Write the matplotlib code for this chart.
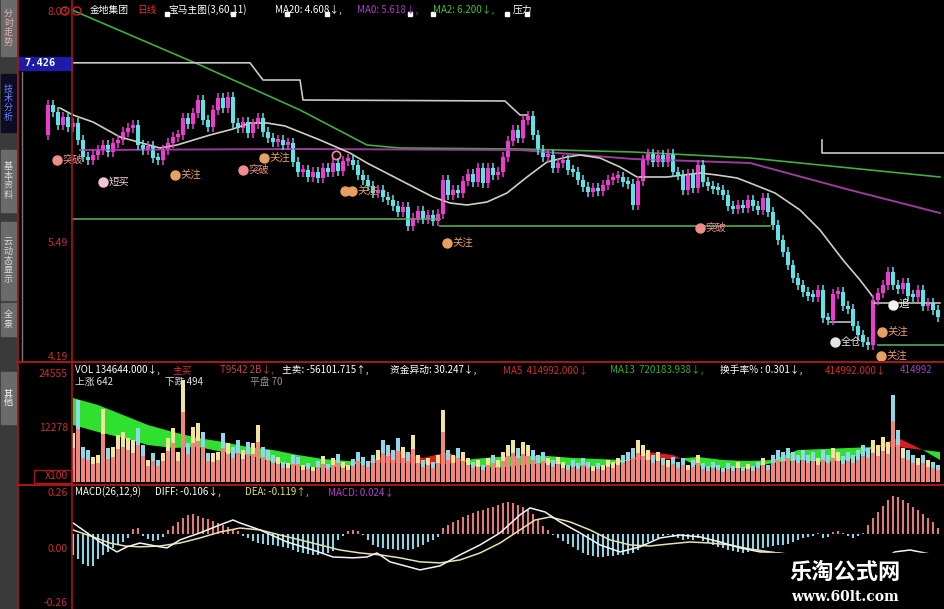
import numpy as np
import matplotlib.pyplot as plt
from matplotlib.patches import Rectangle, Circle

plt.rcParams['font.family'] = ['Noto Sans CJK SC', 'DejaVu Sans']

W, H = 945, 609

# ---- daily closes (open = previous close) ----
open0 = 6.632
close = [
    6.962, 6.885, 6.742, 6.830, 6.720, 6.764, 6.577, 6.390, 6.357, 6.412,
    6.467, 6.522, 6.445, 6.544, 6.577, 6.665, 6.709, 6.742, 6.522, 6.467,
    6.511, 6.379, 6.357, 6.467, 6.544, 6.610, 6.632, 6.819, 6.753, 6.874,
    7.017, 6.797, 6.720, 6.907, 7.039, 6.929, 7.050, 6.764, 6.709, 6.775,
    6.654, 6.753, 6.819, 6.665, 6.599, 6.555, 6.577, 6.522, 6.544, 6.335,
    6.225, 6.247, 6.170, 6.225, 6.159, 6.269, 6.225, 6.324, 6.236, 6.346,
    6.357, 6.302, 6.192, 6.137, 6.071, 5.994, 6.027, 5.950, 5.917, 5.851,
    5.785, 5.840, 5.631, 5.719, 5.796, 5.708, 5.752, 5.686, 5.763, 6.137,
    5.972, 6.027, 5.994, 6.126, 6.203, 6.115, 6.269, 6.104, 6.269, 6.192,
    6.225, 6.390, 6.566, 6.687, 6.599, 6.797, 6.841, 6.632, 6.467, 6.390,
    6.412, 6.269, 6.324, 6.357, 6.247, 6.225, 6.137, 6.060, 6.005, 6.049,
    6.016, 6.082, 6.137, 6.159, 6.170, 6.115, 6.093, 5.862, 6.126, 6.357,
    6.423, 6.335, 6.412, 6.335, 6.423, 6.225, 6.192, 6.027, 6.203, 6.049,
    6.302, 6.115, 6.071, 6.038, 6.027, 5.972, 5.851, 5.818, 5.862, 5.829,
    5.917, 5.851, 5.807, 5.939, 5.785, 5.642, 5.477, 5.345, 5.202, 5.059,
    4.982, 4.905, 4.861, 4.850, 4.927, 4.619, 4.597, 4.883, 4.905, 4.751,
    4.718, 4.531, 4.432, 4.355, 4.322, 4.817, 4.894, 4.982, 5.125, 4.982,
    4.938, 5.004, 4.861, 4.850, 4.927, 4.751, 4.784, 4.707, 4.630,
]

# ---- volume (x100) and the main-sell part of each bar ----
vol = [
    9000, 10500, 8200, 12000, 9800,
    11100, 18600, 7900, 7300, 5700, 6100, 16600, 7700, 7900, 10700,
    11400, 10000, 9500, 12300, 8400, 5000, 6600, 5000, 6600, 10000,
    12300, 6800, 23200, 8900, 12500, 13400, 11400, 6600, 6600, 6800,
    11100, 8900, 7900, 9500, 7300, 9100, 8900, 12900, 7900, 7300,
    6100, 5700, 4500, 4300, 6100, 5700, 3900, 4300, 3400,
    4800, 5900, 4100, 5400, 6300, 4500, 3900, 5200, 6800, 5600, 4700, 6100, 7300,
    9500, 8400, 7300, 10000, 7900, 6800, 10700, 6100, 5000, 5400,
    4500, 6100, 16300, 7300, 6100, 7700, 6800, 5400, 4500, 5000,
    3900, 5400, 6100, 5000, 6800, 8400, 9500, 7700, 9100, 8400,
    7300, 6100, 6800, 5400, 5000, 5700, 4500, 3900, 5000, 4300,
    5400, 4500, 3600, 4300, 3900, 5000, 4500, 5400, 6100, 6800,
    7700, 9500, 8400, 7300, 6100, 6800, 5400, 5000, 5700, 4500,
    5400, 3900, 5000, 6100, 4300, 3600, 4500, 3900, 3200, 4300,
    3600, 4500, 3400, 4100, 3600, 4500, 5400, 3900, 6100, 7300,
    6800, 7700, 6800, 6100, 7300, 6100, 6800, 5400, 7300, 6100,
    7700, 6800, 5900, 6800, 6100, 7300, 8400, 7700, 9500, 8400,
    10200, 9100, 19700, 11800, 7700, 7300, 6100, 5400, 6100, 5000,
    4500, 3900,
]
vol_sell = [
    6300, 7400, 5700, 8400, 6900,
    7800, 12000, 5500, 5000, 4200, 4300, 11000, 5300, 5600, 7500,
    7900, 7300, 6600, 8400, 6000, 3600, 4700, 3600, 4800, 7000,
    8800, 4800, 16000, 6300, 8800, 9300, 8000, 4700, 4500, 4900,
    7800, 6300, 5500, 6700, 5200, 6300, 6300, 9000, 5600, 5100,
    4300, 4000, 3200, 3100, 4200, 4000, 2800, 3000, 2400,
    3400, 4100, 2900, 3800, 4400, 3200, 2800, 3600, 4800, 3900, 3300, 4300, 5100,
    6600, 5900, 5100, 7000, 5500, 4800, 7500, 4300, 3500, 3800,
    3200, 4300, 11400, 5100, 4300, 5400, 4800, 3800, 3200, 3500,
    2700, 3800, 4300, 3500, 4800, 5900, 6600, 5400, 6400, 5900,
    5100, 4300, 4800, 3800, 3500, 4000, 3200, 2700, 3500, 3000,
    3800, 3200, 2500, 3000, 2700, 3500, 3200, 3800, 4300, 4800,
    5400, 6600, 5900, 5100, 4300, 4800, 3800, 3500, 4000, 3200,
    3800, 2700, 3500, 4300, 3000, 2500, 3200, 2700, 2200, 3000,
    2500, 3200, 2400, 2900, 2500, 3200, 3800, 2700, 4300, 5100,
    4800, 5400, 4800, 4300, 5100, 4300, 4800, 3800, 5100, 4300,
    5400, 4800, 4100, 4800, 4300, 5100, 5900, 5400, 6600, 5900,
    7100, 6400, 13800, 8300, 5400, 5100, 4300, 3800, 4300, 3500,
    3200, 2700,
]

# volume moving averages (band)
vma_idx = [5, 10, 15, 20, 25, 30, 35, 40, 45, 50, 55, 60, 65, 70, 75, 80, 85, 90,
           95, 100, 105, 110, 115, 120, 125, 130, 135, 140, 145, 150, 155, 160,
           165, 170, 175, 178.4]
vma_short = [12960, 11370, 10010, 8410, 7730, 7960, 6820, 6140, 4550, 3640, 3180,
             3640, 5000, 7280, 5460, 6820, 3640, 3180, 3870, 4320, 3640, 3410,
             4550, 6820, 6140, 3640, 3180, 3180, 4320, 5000, 4550, 5000, 7730,
             10010, 7280, 5000]
vma_long = [19100, 17510, 15240, 12960, 11370, 10010, 9100, 7960, 7280, 6140, 5230,
            4780, 4320, 4320, 4090, 4090, 5230, 5690, 5910, 5910, 5460, 5230,
            5000, 5000, 5230, 5690, 5000, 4780, 5000, 7280, 7500, 7730, 7960,
            7960, 7280, 6820]

# ---- MACD ----
macd_hist = [
    -0.10, -0.11, -0.12, -0.13, -0.12, -0.10, -0.12, -0.14, -0.15, -0.15,
    -0.12, -0.10, -0.085, -0.066, -0.052, -0.038, -0.02, 0.024, 0.028, -0.01,
    -0.024, -0.033, -0.028, -0.014, 0.019, 0.038, 0.057, 0.076, 0.09, 0.095,
    0.085, 0.076, 0.071, 0.061, 0.052, 0.043, 0.033, 0.024, 0.014, -0.01,
    -0.02, -0.033, -0.043, -0.047, -0.052, -0.052, -0.057, -0.061, -0.066, -0.076,
    -0.085, -0.09, -0.095, -0.10, -0.10, -0.095, -0.09, -0.08, -0.028, -0.01,
    0.014, 0.019, 0.014, -0.005, -0.028, -0.052, -0.061, -0.066, -0.071, -0.071,
    -0.076, -0.071, -0.076, -0.071, -0.061, -0.052, -0.038, -0.028, -0.014, 0.028,
    0.043, 0.057, 0.066, 0.08, 0.09, 0.10, 0.109, 0.113, 0.123, 0.128,
    0.137, 0.147, 0.151, 0.147, 0.137, 0.128, 0.113, 0.095, 0.066, 0.038,
    0.019, -0.005, -0.02, -0.033, -0.047, -0.061, -0.076, -0.09, -0.10, -0.104,
    -0.109, -0.109, -0.104, -0.104, -0.10, -0.10, -0.095, -0.09, -0.076, -0.057,
    -0.038, -0.028, -0.02, -0.01, -0.005, -0.014, -0.02, -0.028, -0.024, -0.028,
    -0.02, -0.033, -0.043, -0.052, -0.061, -0.066, -0.076, -0.08, -0.085, -0.09,
    -0.085, -0.08, -0.076, -0.066, -0.061, -0.057, -0.052, -0.052, -0.047, -0.038,
    -0.028, -0.02, -0.014, -0.01, 0.005, -0.02, -0.014, 0.01, 0.014, 0.003,
    -0.01, -0.02, -0.01, 0.005, 0.043, 0.076, 0.104, 0.132, 0.161, 0.18,
    0.175, 0.161, 0.147, 0.128, 0.113, 0.095, 0.076, 0.057, 0.03,
]
diff_idx = [5, 7, 10.4, 13.8, 15.8, 18.4, 22.4, 23.8, 26.4, 30.4, 34.4, 37, 38.4,
            42.4, 47.8, 53, 57, 61, 63.8, 65.8, 68.4, 74.4, 78.4, 82.4, 86.4, 90.4,
            94.4, 96.4, 99.4, 102.4, 106.4, 110.4, 114.4, 118.4, 122.4, 126.4,
            130.4, 134.4, 138.4, 142.4, 146.4, 150.4, 154.4, 158.4, 162.4, 164.4,
            166.4, 169.4, 172.4, 175.4, 178.4]
diff_val = [0.052, 0.019, -0.038, -0.085, -0.061, -0.043, -0.061, -0.066, -0.028,
            0.005, 0.043, 0.066, 0.052, 0.019, -0.038, -0.076, -0.109, -0.113,
            -0.109, -0.090, -0.132, -0.170, -0.151, -0.099, -0.052, 0.005, 0.090,
            0.123, 0.104, 0.057, 0.005, -0.052, -0.085, -0.061, -0.019, -0.005,
            -0.014, -0.038, -0.066, -0.085, -0.090, -0.104, -0.123, -0.151, -0.170,
            -0.161, -0.123, -0.085, -0.076, -0.090, -0.104]
dea_idx = [5, 8.4, 12.4, 15.4, 18.4, 22.4, 26.4, 30.4, 34.4, 38.4, 42.4, 46.4, 50.4,
           54.4, 58.4, 62.4, 66.4, 70.4, 74.4, 78.4, 82.4, 86.4, 90.4, 94.4, 97.4,
           100.4, 104.4, 108.4, 112.4, 116.4, 120.4, 124.4, 128.4, 132.4, 136.4,
           140.4, 144.4, 148.4, 152.4, 156.4, 160.4, 164.4, 168.4, 172.4, 175.4, 178.4]
dea_val = [0.019, -0.009, -0.043, -0.057, -0.061, -0.057, -0.043, -0.019, 0.009,
           0.028, 0.019, -0.005, -0.028, -0.052, -0.076, -0.090, -0.099, -0.113,
           -0.132, -0.137, -0.123, -0.090, -0.043, 0.019, 0.066, 0.080, 0.057,
           0.019, -0.028, -0.052, -0.057, -0.047, -0.038, -0.043, -0.052, -0.071,
           -0.085, -0.099, -0.118, -0.137, -0.156, -0.180, -0.180, -0.156, -0.132,
           -0.118]

# ---- indicator lines on the price panel ----
ma_w_idx = [2.4, 5, 9, 14.4, 22.4, 25.8, 32.4, 37, 40.4, 43.8, 47.4, 50.4, 54.4,
            60.4, 63.8, 70.4, 77, 80.4, 83.8, 87.8, 91.8, 95.8, 99.8, 103.8, 106.4,
            110.4, 114.4, 117.8, 123.8, 130.4, 133.8, 137.8, 140.4, 145.4, 150.4,
            154.4, 159, 162.4, 165]
ma_w_val = [6.929, 6.852, 6.775, 6.610, 6.489, 6.522, 6.632, 6.698, 6.764, 6.764,
            6.731, 6.665, 6.577, 6.434, 6.324, 6.137, 5.950, 5.884, 5.862, 5.895,
            5.994, 6.170, 6.335, 6.390, 6.412, 6.379, 6.280, 6.170, 6.170, 6.214,
            6.192, 6.159, 6.104, 5.994, 5.807, 5.587, 5.257, 5.037, 4.850]
ma_p_idx = [6.4, 50.4, 94.4, 117, 140.4, 160.4, 178.4]
ma_p_val = [6.467, 6.478, 6.467, 6.368, 6.324, 6.027, 5.774]
ma_g_idx = [4.8, 30.4, 50.4, 63.8, 70.4, 94.4, 117, 140.4, 178.4]
ma_g_val = [8.007, 7.402, 6.907, 6.522, 6.489, 6.478, 6.445, 6.379, 6.170]

res1_idx = [5, 40.4, 43, 50.4, 51, 91.4, 94.4, 95.8]
res1_val = [7.426, 7.426, 7.237, 7.237, 7.017, 7.006, 6.852, 6.852]
res2_idx = [154.8, 154.8, 179.4]
res2_val = [6.577, 6.434, 6.434]
support = [(4.8, 78.4, 5.708), (78.4, 144.4, 5.631), (166, 179.4, 4.322)]
flat_w = [(165, 178.4, 4.784), (156.4, 160.4, 4.575)]

square_idx = [23.8, 37, 47.8, 55.8, 72.4, 77, 91.8, 95.8]
square_val = 7.963

sig_idx = [1.8, 11, 25.4, 39, 43.2, 59.4, 60.8, 79.8, 130.4, 169, 166.8, 157.4, 166.6]
sig_val = [6.357, 6.115, 6.192, 6.247, 6.379, 6.016, 6.016, 5.444, 5.609, 4.762,
           4.465, 4.355, 4.201]
sig_text = ['突破', '短买', '关注', '突破', '关注', '', '关注', '关注', '突破', '追',
            '关注', '全仓', '关注']
sig_color = {'突破': '#f08c8c', '短买': '#f2c6d0', '关注': '#e8a060', '追': '#f2f2f2',
             '全仓': '#e6e6e6', '': '#e8a060'}

fig = plt.figure(figsize=(W / 100, H / 100), dpi=100, facecolor='black')


def px_axes(x0, y0, x1, y1, z=1):
    a = fig.add_axes([x0 / W, 1 - y1 / H, (x1 - x0) / W, (y1 - y0) / H])
    a.set_facecolor('none')
    a.set_zorder(z)
    a.axis('off')
    return a


n = len(close)
idx = np.arange(n)
c = np.array(close)
o = np.array([open0] + close[:-1])
up = c >= o
UP, DN = '#ee3cd2', '#5ce4e8'
cols = np.where(up, UP, DN)

# ---- price panel ----
ax = px_axes(20, 8, 945, 360)
ax.set_xlim(-5.6, 179.4)
ax.set_ylim(4.157, 8.029)
ax.plot(ma_g_idx, ma_g_val, color='#3fae3f', lw=1.2)
ax.plot(ma_p_idx, ma_p_val, color='#9a3c9a', lw=1.4)
ax.plot(ma_w_idx, ma_w_val, color='#cfcfc0', lw=1.2)
ax.plot(res1_idx, res1_val, color='#c8c8c8', lw=1.2)
ax.plot(res2_idx, res2_val, color='#c8c8c8', lw=1.2)
for a0, a1, v in support:
    ax.plot([a0, a1], [v, v], color='#4f9a4f', lw=1.3)
for a0, a1, v in flat_w:
    ax.plot([a0, a1], [v, v], color='#d0d0c8', lw=1.1)

lo = np.minimum(o, c)
bh = np.maximum(np.abs(c - o), 0.03)
ax.vlines(idx, lo - 0.05, lo + bh + 0.05, colors=cols, lw=1.1)
ax.bar(idx, bh, bottom=lo, width=0.88, color=cols)

ax.plot(square_idx, [square_val] * len(square_idx), 's', ms=3.5, color='white')
ax.plot([57.6], [6.412], 'o', ms=6, mfc='none', mec='#f08ca0', mew=1.2)
for i, v, t in zip(sig_idx, sig_val, sig_text):
    col = sig_color[t]
    ax.plot(i, v, 'o', ms=6.5, color=col)
    if t:
        ax.annotate(t, (i, v), xytext=(4, 0), textcoords='offset points',
                    color=col, fontsize=7.5, va='center', ha='left')

# ---- volume panel ----
vax = px_axes(72, 365, 945, 482)
vax.set_xlim(4.8, 179.4)
vax.set_ylim(0, 26600)
vs = np.array(vma_short)
vl = np.array(vma_long)
vax.fill_between(vma_idx, vs, vl, where=vl >= vs, interpolate=True,
                 color='#2fe02f', lw=0)
vax.fill_between(vma_idx, vs, vl, where=vs > vl, interpolate=True,
                 color='#d81e1e', lw=0)
cap_cols = np.where(up, '#f2e49a', '#8fd8e8')
vax.bar(idx, vol, width=0.7, color=cap_cols)
vax.bar(idx, vol_sell, width=0.7, color='#f0877c')

# ---- MACD panel ----
max_ = px_axes(72, 487, 945, 609)
max_.set_xlim(4.8, 179.4)
max_.set_ylim(-0.355, 0.222)
h = np.array(macd_hist)
max_.vlines(idx, 0, h, colors=np.where(h >= 0, '#e07a7a', '#8cd4e4'), lw=1.5)
max_.plot(dea_idx, dea_val, color='#e8e0b0', lw=1.1)
max_.plot(diff_idx, diff_val, color='#f4f4f4', lw=1.1)

# ---- overlay: frame, labels, titles ----
ov = px_axes(0, 0, W, H, z=5)
ov.set_xlim(0, W)
ov.set_ylim(H, 0)

RED = '#a81818'
ov.add_patch(Rectangle((0, 0), 17, H, color='#3a3a3a'))
tabs = [(0, 56, '分时走势', '#6a6a6a', '#e8b0b0'),
        (74, 132, '技术分析', '#0c0c24', '#6a86ff'),
        (150, 212, '基本资料', '#6a6a6a', '#dcdcdc'),
        (222, 300, '云·动态显示', '#6a6a6a', '#dcdcdc'),
        (303, 336, '全景', '#6a6a6a', '#dcdcdc'),
        (372, 424, '其他', '#6a6a6a', '#ffffff')]
for y0, y1, t, bgc, fgc in tabs:
    ov.add_patch(Rectangle((1, y0), 15, y1 - y0, color=bgc))
    ov.text(8.5, (y0 + y1) / 2, '\n'.join(t.replace('·', '')), color=fgc,
            fontsize=6.5, ha='center', va='center', linespacing=1.05)

ov.plot([17.5, 17.5], [0, H], color=RED, lw=1.2)
ov.plot([72, 72], [0, H], color=RED, lw=1.2)
ov.plot([17, W], [362, 362], color=RED, lw=1.4)
ov.plot([17, W], [485, 485], color=RED, lw=1.4)
ov.plot([22, 22], [72, 360], color='#777777', lw=1)

ov.add_patch(Rectangle((18, 57), 54, 13, color='#1c1ca8'))
ov.text(24, 63.5, '7.426', color='white', fontsize=7.5, fontweight='bold',
        va='center', ha='left', family='DejaVu Sans Mono')
ov.add_patch(Rectangle((34, 470), 38, 13, fill=False, ec=RED, lw=1))
for y, t in [(12, '8.03'), (243, '5.49'), (357, '4.19'), (374, '24555'),
             (428, '12278'), (476, 'X100'), (493, '0.26'), (549, '0.00'),
             (603, '-0.26')]:
    ov.text(68, y, t, color='#c83030', fontsize=7.5, ha='right', va='center')
for xx in (65, 77):
    ov.add_patch(Circle((xx, 11), 4, fill=False, ec='#d02020', lw=1))

title = [(90, '金地集团', 'white'), (137, '日线', '#e03030'),
         (168, '宝马主图(3,60,11)', 'white'), (275, 'MA20: 4.608↓,', 'white'),
         (357, 'MA0: 5.618↓,', '#a840c0'), (433, 'MA2: 6.200↓,', '#40c040'),
         (513, '压力', 'white')]
vol_title = [(75, 'VOL 134644.000↓,', 'white'), (172, '主买', '#e03030'),
             (220, 'T9542 2B↓,', '#c84040'), (282, '主卖: -56101.715↑,', 'white'),
             (390, '资金异动: 30.247↓,', 'white'), (503, 'MA5  414992.000↓', '#d03030'),
             (610, 'MA13  720183.938↓,', '#30b030'), (720, '换手率% : 0.301↓,', 'white'),
             (825, '414992.000↓', '#d03030'), (900, '414992', '#a040c0')]
vol_sub = [(75, '上涨 642', '#e0e0e0'), (165, '下跌 494', '#e0e0e0'),
           (250, '平盘 70', '#909090')]
macd_title = [(75, 'MACD(26,12,9)', 'white'), (155, 'DIFF: -0.106↓,', 'white'),
              (245, 'DEA: -0.119↑,', '#e0e060'), (328, 'MACD: 0.024↓', '#b040c0')]
for y, row in [(10, title), (370, vol_title), (382, vol_sub), (492, macd_title)]:
    for x, t, col in row:
        ov.text(x, y, t, color=col, fontsize=7, ha='left', va='center')

# watermark
ov.add_patch(Rectangle((762, 553), W - 762, H - 553, color='black'))
ov.text(845, 572, '乐淘公式网', color='white', fontsize=16, fontweight='bold',
        ha='center', va='center')
ov.text(845, 597, 'www.60lt.com', color='white', fontsize=10, fontweight='bold',
        ha='center', va='center', family='DejaVu Serif')

fig.savefig('out.png', dpi=100, facecolor='black')
